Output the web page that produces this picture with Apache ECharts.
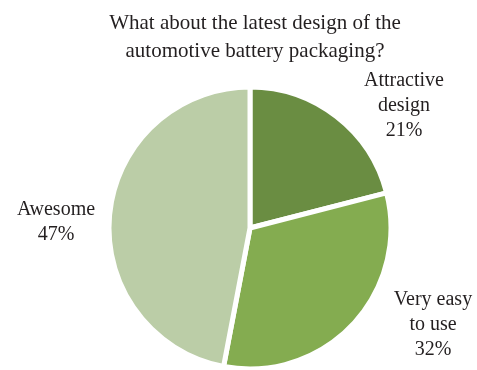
<!DOCTYPE html>
<html><head><meta charset="utf-8">
<script src="https://cdn.jsdelivr.net/npm/echarts@6/dist/echarts.min.js"></script>
<style>html,body{margin:0;padding:0;background:#fff}#c{width:477px;height:370px}</style>
</head><body><div id="c"></div>
<script>
const titleText = "What about the latest design of the\nautomotive battery packaging?";
const categories = ["Attractive\ndesign", "Very easy\nto use", "Awesome"];
const values = [21, 32, 47];
const colors = ["#6a8d42", "#84ac50", "#bbcda7"];
const labelSpots = [[404, 106], [433, 325], [56, 222]];

const chart = echarts.init(document.getElementById('c'), null, {renderer: 'canvas'});
chart.setOption({
  animation: false,
  title: {
    text: titleText, left: 250, top: 4, textAlign: 'center',
    textStyle: {fontFamily: 'Liberation Serif', fontSize: 21, fontWeight: 'normal', color: '#231f20', lineHeight: 28, align: 'center'}
  },
  series: [{
    type: 'pie',
    center: [250, 228],
    radius: 141,
    startAngle: 90,
    clockwise: true,
    data: categories.map((c, i) => ({name: c, value: values[i], itemStyle: {color: colors[i]}})),
    itemStyle: {borderColor: '#fff', borderWidth: 5},
    label: {
      show: true, position: 'outside', formatter: p => p.name + '\n' + p.value + '%',
      fontFamily: 'Liberation Serif', fontSize: 20, color: '#231f20', lineHeight: 25, align: 'center',
      overflow: 'none'
    },
    labelLine: {show: false},
    labelLayout: p => ({x: labelSpots[p.dataIndex][0], y: labelSpots[p.dataIndex][1], align: 'center', verticalAlign: 'middle'})
  }]
});
</script></body></html>
